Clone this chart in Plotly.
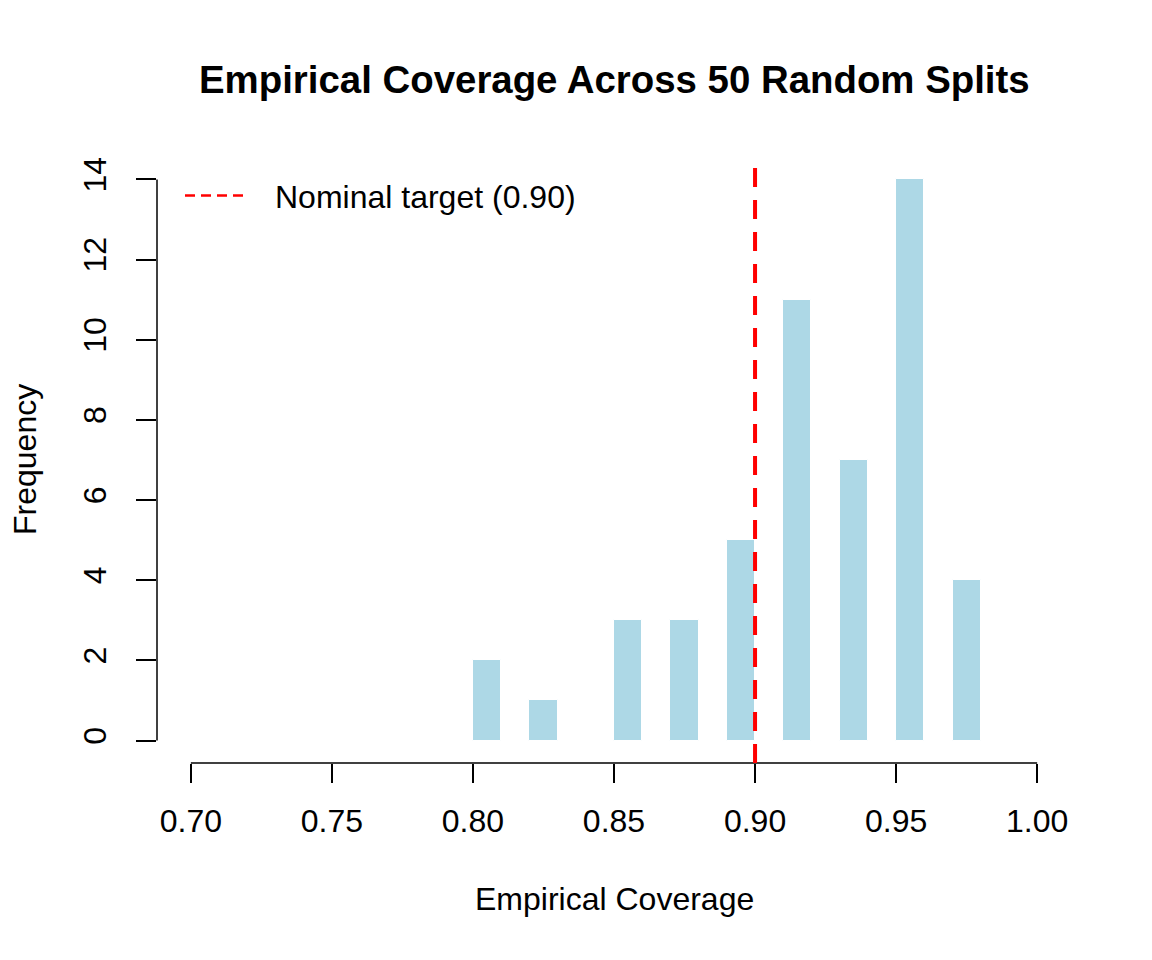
import plotly.graph_objects as go

# Data (bin width 0.01)
bin_left = [0.80, 0.82, 0.85, 0.87, 0.89, 0.91, 0.93, 0.95, 0.97]
counts = [2, 1, 3, 3, 5, 11, 7, 14, 4]
bin_width = 0.01
nominal = 0.90
legend_label = "Nominal target (0.90)"
x_ticks = [0.70, 0.75, 0.80, 0.85, 0.90, 0.95, 1.00]
y_ticks = [0, 2, 4, 6, 8, 10, 12, 14]

W, H = 1152, 960
OFF = 8  # page body margin
# plot region in page pixels: x 157..1071, y 157..763
PL, PR, PT, PB = 157, 1071, 157, 763
L, T = PL - OFF, PT - OFF
R, B = W - (PR - OFF), H - (PB - OFF)
pw, ph = PR - PL, PB - PT


def px(x):
    return (x - PL) / pw


def py(y):
    return (PB - y) / ph


FONT = "Liberation Sans, Arial, sans-serif"

centers = [b + bin_width / 2 for b in bin_left]

fig = go.Figure()
fig.add_trace(go.Bar(
    x=centers, y=counts, width=bin_width,
    marker=dict(color="#ADD8E6", line=dict(color="white", width=1)),
    showlegend=False, hoverinfo="x+y",
))

xmin, xmax = x_ticks[0], x_ticks[-1]
xpad = 0.04 * (xmax - xmin)
ymin, ymax = 0, max(counts)
ypad = 0.04 * (ymax - ymin)

fig.update_layout(
    width=W, height=H,
    margin=dict(l=L, r=R, t=T, b=B, autoexpand=False),
    paper_bgcolor="white", plot_bgcolor="white",
    font=dict(family=FONT, size=32, color="black"),
    bargap=0,
    showlegend=False,
    xaxis=dict(
        range=[xmin - xpad, xmax + xpad], tickvals=x_ticks,
        ticktext=[f"{v:.2f}" for v in x_ticks],
        ticks="outside", ticklen=19, tickwidth=1.5, tickcolor="black",
        showgrid=False, zeroline=False, showline=False,
        tickfont=dict(size=32), ticklabelstandoff=11,
    ),
    yaxis=dict(
        range=[ymin - ypad, ymax + ypad], tickvals=y_ticks,
        ticktext=[str(v) for v in y_ticks], tickangle=-90,
        ticks="outside", ticklen=20, tickwidth=1.5, tickcolor="black",
        showgrid=False, zeroline=False, showline=False,
        tickfont=dict(size=32), ticklabelstandoff=17,
    ),
    shapes=[
        dict(type="line", xref="x", yref="paper", x0=xmin, x1=xmax, y0=0, y1=0,
             line=dict(color="black", width=1.5)),
        dict(type="line", xref="paper", yref="y", x0=0, x1=0, y0=ymin, y1=ymax,
             line=dict(color="black", width=1.5)),
        dict(type="line", xref="x", yref="paper", x0=nominal, x1=nominal, y0=0, y1=py(168),
             line=dict(color="red", width=4, dash="19px,13px")),
        # legend sample
        dict(type="line", xref="paper", yref="paper", x0=px(185), x1=px(243),
             y0=py(195.5), y1=py(195.5),
             line=dict(color="red", width=2.5, dash="10px,6px")),
    ],
    annotations=[
        dict(text="<b>Empirical Coverage Across 50 Random Splits</b>", xref="paper", yref="paper",
             x=px(614), y=py(80), xanchor="center", yanchor="middle",
             showarrow=False, font=dict(size=38.4, family=FONT)),
        dict(text="Empirical Coverage", xref="paper", yref="paper",
             x=px(614), y=py(899), xanchor="center", yanchor="middle",
             showarrow=False, font=dict(size=32, family=FONT)),
        dict(text="Frequency", xref="paper", yref="paper",
             x=px(25), y=py(460), xanchor="center", yanchor="middle", textangle=-90,
             showarrow=False, font=dict(size=32, family=FONT)),
        dict(text=legend_label, xref="paper", yref="paper",
             x=px(273), y=py(197), xanchor="left", yanchor="middle",
             showarrow=False, font=dict(size=32, family=FONT)),
    ],
)

fig.write_html("out.html")
